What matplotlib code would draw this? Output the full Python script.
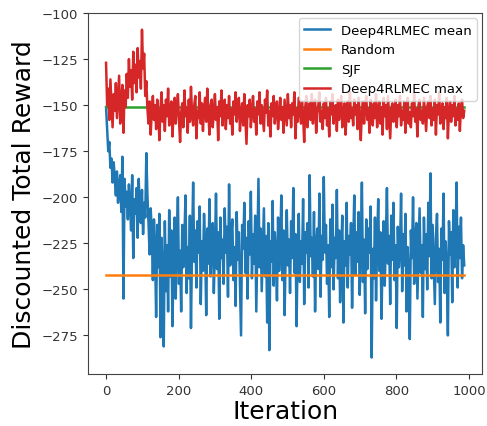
import matplotlib
matplotlib.use("Agg")
import matplotlib.pyplot as plt

iterations = list(range(0, 990, 3))

mean_reward = [
    -151, -163, -175, -170, -184, -179, -192, -181, -189, -199,
    -186, -203, -194, -188, -208, -178, -255, -190, -205, -197,
    -212, -193, -204, -218, -188, -233, -201, -209, -195, -222,
    -190, -207, -214, -196, -220, -203, -211, -176, -199, -214,
    -231, -206, -219, -245, -212, -228, -265, -215, -238, -209,
    -276, -222, -240, -281, -213, -251, -226, -262, -207, -243,
    -218, -270, -232, -211, -255, -224, -200, -247, -229, -262,
    -215, -238, -221, -199, -252, -227, -244, -210, -271, -226,
    -192, -235, -218, -249, -213, -230, -205, -258, -224, -240,
    -209, -226, -264, -217, -236, -201, -243, -222, -214, -252,
    -228, -198, -239, -219, -266, -211, -233, -223, -247, -206,
    -230, -216, -254, -193, -237, -221, -212, -245, -227, -259,
    -208, -234, -219, -248, -275, -215, -228, -203, -241, -222,
    -255, -213, -231, -197, -244, -220, -236, -210, -262, -225,
    -190, -238, -217, -251, -229, -206, -243, -221, -268, -214,
    -283, -224, -235, -202, -248, -219, -231, -256, -211, -240,
    -226, -199, -245, -218, -264, -230, -207, -237, -223, -252,
    -213, -233, -195, -241, -220, -270, -228, -209, -246, -224,
    -236, -201, -258, -219, -230, -214, -249, -188, -232, -222,
    -243, -208, -262, -226, -217, -239, -198, -254, -221, -234,
    -189, -230, -215, -247, -226, -265, -212, -238, -204, -250,
    -222, -233, -196, -244, -218, -257, -229, -210, -268, -224,
    -237, -203, -249, -221, -231, -214, -260, -226, -199, -242,
    -219, -235, -208, -253, -227, -192, -246, -223, -263, -212,
    -239, -217, -230, -205, -287, -228, -244, -211, -256, -225,
    -201, -240, -219, -266, -232, -213, -248, -224, -195, -236,
    -221, -258, -210, -234, -203, -245, -226, -271, -216, -238,
    -229, -198, -251, -220, -237, -209, -262, -227, -243, -277,
    -218, -233, -200, -247, -224, -214, -255, -230, -206, -241,
    -226, -265, -211, -239, -220, -250, -203, -232, -187, -244,
    -215, -236, -258, -222, -209, -246, -228, -268, -217, -234,
    -198, -252, -224, -240, -275, -213, -231, -219, -257, -207,
    -238, -225, -192, -249, -216, -233, -211, -244, -226, -237,
]

max_reward = [
    -127, -150, -141, -158, -136, -149, -162, -144, -153, -138,
    -157, -145, -134, -160, -148, -139, -165, -142, -151, -133,
    -146, -125, -140, -131, -147, -121, -138, -128, -143, -119,
    -135, -126, -141, -109, -130, -122, -145, -137, -152, -160,
    -148, -166, -153, -145, -158, -150, -163, -147, -155, -169,
    -152, -143, -159, -150, -164, -147, -156, -141, -161, -153,
    -148, -167, -155, -146, -160, -151, -144, -158, -170, -154,
    -149, -162, -142, -156, -151, -165, -147, -159, -140, -155,
    -161, -150, -145, -168, -153, -157, -143, -160, -149, -164,
    -152, -146, -159, -141, -155, -166, -150, -147, -162, -154,
    -144, -158, -151, -169, -148, -156, -142, -161, -153, -147,
    -163, -150, -157, -145, -160, -152, -166, -148, -155, -143,
    -159, -151, -146, -164, -154, -149, -161, -144, -157, -171,
    -150, -156, -147, -162, -153, -145, -159, -152, -166, -148,
    -155, -143, -160, -150, -157, -164, -147, -154, -142, -161,
    -153, -167, -149, -156, -145, -160, -152, -148, -163, -155,
    -146, -158, -151, -165, -147, -154, -161, -144, -157, -150,
    -162, -149, -155, -143, -168, -152, -159, -146, -153, -160,
    -148, -156, -170, -151, -145, -162, -154, -149, -158, -144,
    -160, -152, -147, -165, -155, -150, -143, -159, -153, -163,
    -149, -157, -146, -161, -152, -167, -148, -155, -144, -160,
    -153, -150, -164, -147, -158, -151, -145, -162, -156, -149,
    -166, -154, -148, -159, -143, -157, -152, -161, -147, -155,
    -150, -163, -146, -156, -169, -153, -148, -160, -151, -145,
    -158, -152, -165, -147, -155, -161, -149, -157, -144, -162,
    -153, -148, -160, -151, -166, -146, -156, -150, -163, -145,
    -157, -168, -152, -149, -159, -154, -147, -162, -150, -156,
    -145, -161, -153, -158, -148, -165, -151, -146, -160, -154,
    -162, -149, -156, -144, -159, -152, -167, -150, -147, -158,
    -153, -160, -146, -155, -164, -151, -148, -157, -145, -161,
    -152, -158, -147, -166, -150, -155, -143, -160, -154, -149,
    -163, -151, -157, -146, -168, -153, -148, -159, -150, -156,
    -145, -161, -152, -158, -149, -164, -151, -147, -157, -153,
]

random_reward = -242
sjf_reward = -151

labels = ["Deep4RLMEC mean", "Random", "SJF", "Deep4RLMEC max"]

fig = plt.figure(figsize=(4.87, 4.27), dpi=100)
ax = fig.add_axes([0.181, 0.122, 0.809, 0.845])

lw = 1.8
ax.plot(iterations, mean_reward, color="#1f77b4", lw=lw, label=labels[0])
ax.plot(iterations, [random_reward] * len(iterations), color="#ff7f0e", lw=lw, label=labels[1])
ax.plot(iterations, [sjf_reward] * len(iterations), color="#2ca02c", lw=lw, label=labels[2])
ax.plot(iterations, max_reward, color="#d62728", lw=lw, label=labels[3])

ax.set_xticks([0, 200, 400, 600, 800, 1000])
ax.set_yticks([-275, -250, -225, -200, -175, -150, -125, -100])
ax.tick_params(labelsize=9.5, colors="#333333")
for s in ax.spines.values():
    s.set_color("#444444")

ax.set_xlabel("Iteration", fontsize=18, labelpad=2)
ax.set_ylabel("Discounted Total Reward", fontsize=18)

ax.legend(loc="upper right", fontsize=9.5, borderaxespad=0.4)

fig.savefig("out.png", dpi=100)
